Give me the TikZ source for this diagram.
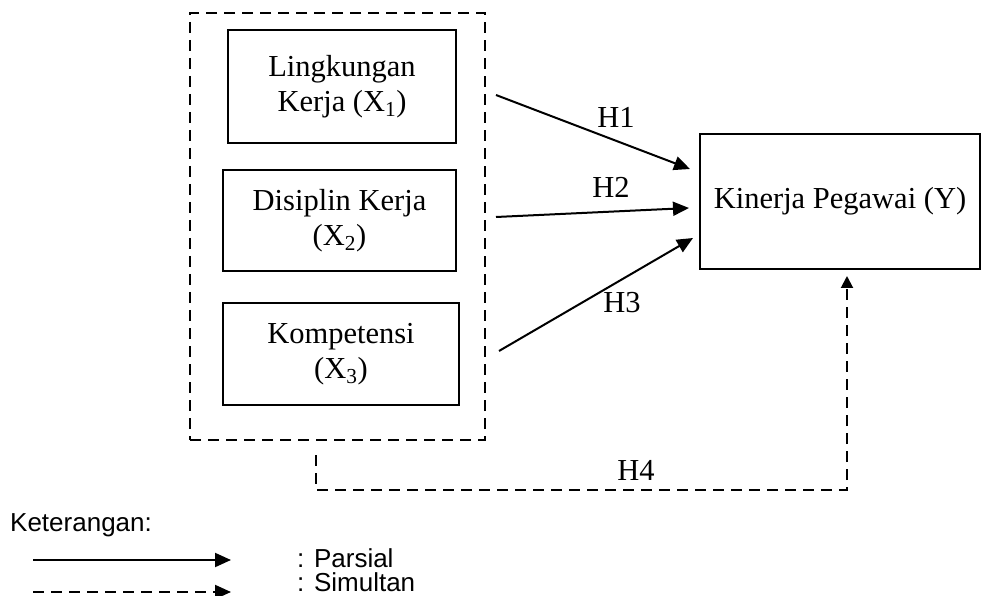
\documentclass[tikz,border=0pt]{standalone}
\usepackage{fontspec}
\setmainfont{Liberation Serif}
\setsansfont{Liberation Sans}
\usetikzlibrary{arrows.meta}
\tikzset{
  box/.style={draw, line width=2pt, rectangle, align=center, inner sep=0pt,
    font=\fontsize{30.5}{35}\selectfont},
  dashline/.style={line width=2.4pt, dash pattern=on 11pt off 7pt},
  arr/.style={line width=2pt, -{Triangle[length=16pt,width=14pt]}},
  lbl/.style={font=\fontsize{30.5}{35}\selectfont, inner sep=0pt},
  leg/.style={font=\sffamily\fontsize{26}{30}\selectfont, inner sep=0pt, anchor=west}
}
\begin{document}
\begin{tikzpicture}[x=1pt,y=-1pt]
\useasboundingbox (0,0) rectangle (989,596);
\node[draw, dashline, minimum width=295pt, minimum height=427pt, inner sep=0pt] (outer) at (337.5,226.5) {};
\node[box, minimum width=228pt, minimum height=113pt] (x1) at (342,86.5) {Lingkungan\\Kerja (X\textsubscript{1})};
\node[box, minimum width=233pt, minimum height=101pt] (x2) at (339.5,220.5) {Disiplin Kerja\\(X\textsubscript{2})};
\node[box, minimum width=236pt, minimum height=102pt] (x3) at (341,354) {Kompetensi\\(X\textsubscript{3})};
\node[box, minimum width=280pt, minimum height=135pt] (y) at (840,201.5) {Kinerja Pegawai (Y)};
\coordinate (s1) at (496,95);
\coordinate (e1) at (690,169);
\coordinate (s2) at (496,217);
\coordinate (e2) at (689,208);
\coordinate (s3) at (499,351);
\coordinate (e3) at (693,238);
\draw[arr] (s1) -- (e1);
\draw[arr] (s2) -- (e2);
\draw[arr] (s3) -- (e3);
\node[lbl] (h1) at (616,117) {H1};
\node[lbl] (h2) at (611,187) {H2};
\node[lbl] (h3) at (622,303) {H3};
\coordinate (h4s) at (316,455);
\coordinate (h4e) at (847,276);
\draw[dashline] (h4s) |- (847,490) -- (847,286);
\draw[line width=2pt, -{Triangle[length=12pt,width=12pt]}] (847,287) -- (h4e);
\node[lbl] (h4) at (636,470) {H4};
\node[leg] (ket) at (10,525) {Keterangan:};
\coordinate (ls1) at (33,560);
\coordinate (le1) at (231,560);
\coordinate (ls2) at (33,592);
\coordinate (le2) at (231,592);
\draw[arr] (ls1) -- (le1);
\draw[dashline] (ls2) -- (216,592);
\draw[line width=2pt, -{Triangle[length=16pt,width=14pt]}] (216,592) -- (le2);
\node[leg] (parsial) at (297,558) {: Parsial};
\node[leg] (simultan) at (297,582) {: Simultan};
\end{tikzpicture}
\end{document}
